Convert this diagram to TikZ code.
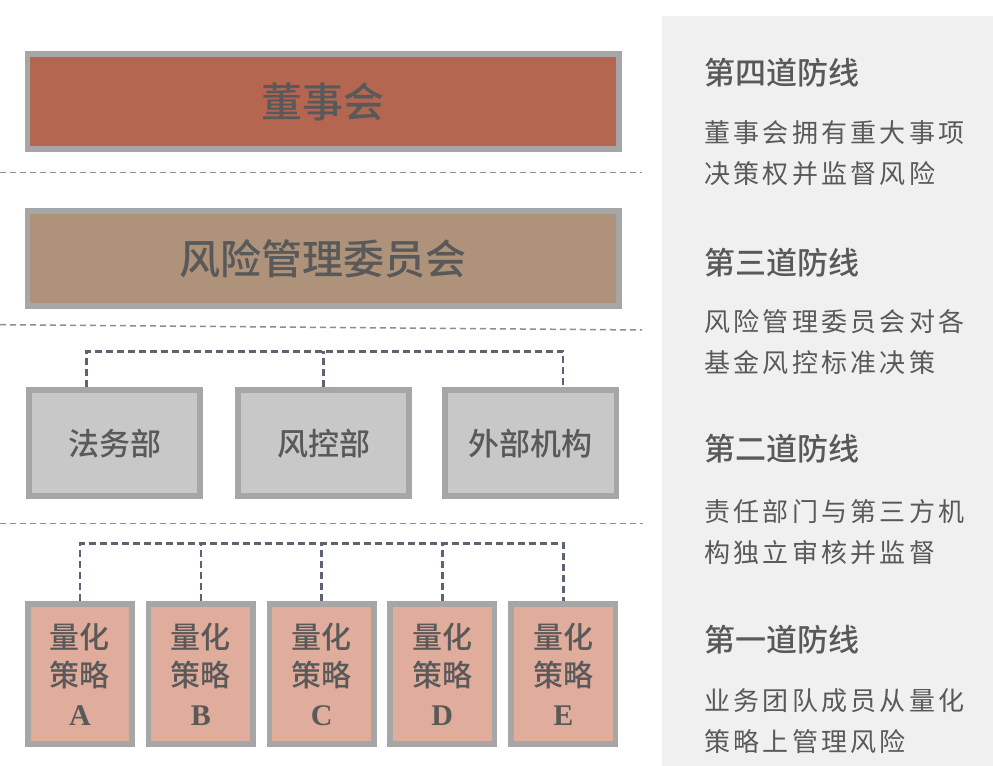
\documentclass[tikz,border=0pt]{standalone}
\usepackage{fontspec}
\setmainfont{Noto Sans CJK SC}
\newfontfamily\bodyfont[LetterSpace=12.5]{Noto Sans CJK SC}
\IfFontExistsTF{Noto Sans CJK SC Medium}
  {\newfontfamily\medfont{Noto Sans CJK SC Medium}}
  {\newfontfamily\medfont{Noto Sans CJK SC}}
\newfontfamily\latinbold{Liberation Serif}
\usetikzlibrary{backgrounds}
\newcommand\pxu{0.75pt}
\definecolor{boardred}{HTML}{B56650}
\definecolor{riskbrown}{HTML}{AE927A}
\definecolor{deptgray}{HTML}{C8C8C8}
\definecolor{stratpink}{HTML}{E0AC9B}
\definecolor{bordergray}{HTML}{A6A6A6}
\definecolor{textgray}{HTML}{595959}
\definecolor{panelgray}{HTML}{F0F0F0}
\definecolor{sepgray}{HTML}{8E8E8E}
\definecolor{treeslate}{HTML}{5E6276}
\tikzset{
  box/.style={draw=bordergray, line width=5.6*\pxu, inner sep=0pt, text=textgray, align=center},
  bigbox/.style={box, minimum width=591.9*\pxu, minimum height=95.4*\pxu, font=\medfont\fontsize{30.75pt}{36pt}\selectfont},
  deptbox/.style={box, fill=deptgray, minimum width=171.4*\pxu, minimum height=105.9*\pxu, font=\medfont\fontsize{23.25pt}{28pt}\selectfont},
  stratbox/.style={box, fill=stratpink, minimum width=104.4*\pxu, minimum height=140.4*\pxu, font=\medfont\fontsize{22.5pt}{28.9pt}\selectfont},
  sepline/.style={draw=sepgray, line width=1.5*\pxu, dash pattern=on 6*\pxu off 4*\pxu},
  treeline/.style={draw=treeslate, line width=2.5*\pxu, dash pattern=on 7*\pxu off 4*\pxu},
  heading/.style={anchor=west, inner sep=0pt, text=textgray, font=\medfont\fontsize{23.25pt}{28pt}\selectfont},
  bodytext/.style={anchor=west, inner sep=0pt, text=textgray, align=left, font=\bodyfont\fontsize{19.5pt}{30.75pt}\selectfont},
}
\begin{document}
\begin{tikzpicture}[x=0.75pt, y=-0.75pt]
\useasboundingbox (0,0) rectangle (993,766);
% right panel
\fill[panelgray] (661.7,15.7) rectangle (993,766);
% layer separators
\draw[sepline] (0,172.3) -- (642,172.3);
\draw[sepline] (0,324.7) -- (642,330);
\draw[sepline] (0,523.7) -- (643,523.7);
% boxes
\node[bigbox, fill=boardred] (board) at (323.25,101.5) {董事会};
\node[bigbox, fill=riskbrown] (committee) at (323.25,258.5) {风险管理委员会};
\node[deptbox] (legal) at (114.5,443.25) {法务部};
\node[deptbox] (riskdept) at (323.5,443.25) {风控部};
\node[deptbox] (external) at (530.75,443.25) {外部机构};
\node[stratbox] (sA) at (80,674) {量化\\策略\\{\latinbold\bfseries A}};
\node[stratbox] (sB) at (200.85,674) {量化\\策略\\{\latinbold\bfseries B}};
\node[stratbox] (sC) at (321.7,674) {量化\\策略\\{\latinbold\bfseries C}};
\node[stratbox] (sD) at (442.3,674) {量化\\策略\\{\latinbold\bfseries D}};
\node[stratbox] (sE) at (563.3,674) {量化\\策略\\{\latinbold\bfseries E}};
% connector trees
\coordinate (bus1) at (0,351.5);
\coordinate (bus2) at (0,543.7);
\coordinate (legaltop) at ([xshift=-28*\pxu]legal.north);
\coordinate (externaltop) at ([xshift=32.25*\pxu]external.north);
\begin{scope}[on background layer]
\fill[white] (0,0) rectangle (661.7,766);
\fill[white] (661.7,0) rectangle (993,15.7);
\draw[treeline] (legaltop) -- (legaltop |- bus1) -- (externaltop |- bus1) -- (externaltop);
\draw[treeline] (riskdept.north) -- (riskdept.north |- bus1);
\draw[treeline] (sA.north) -- (sA.north |- bus2) -- (sE.north |- bus2) -- (sE.north);
\draw[treeline] (sB.north) -- (sB.north |- bus2);
\draw[treeline] (sC.north) -- (sC.north |- bus2);
\draw[treeline] (sD.north) -- (sD.north |- bus2);
\end{scope}
% right panel texts
\node[heading] (h4) at (704,72.5) {第四道防线};
\node[bodytext] (t4) at (704,153.5) {董事会拥有重大事项\\决策权并监督风险};
\node[heading] (h3) at (704,263) {第三道防线};
\node[bodytext] (t3) at (704,342) {风险管理委员会对各\\基金风控标准决策};
\node[heading] (h2) at (704,449) {第二道防线};
\node[bodytext] (t2) at (704,532) {责任部门与第三方机\\构独立审核并监督};
\node[heading] (h1) at (704,640) {第一道防线};
\node[bodytext] (t1) at (704,721) {业务团队成员从量化\\策略上管理风险};
\end{tikzpicture}
\end{document}
